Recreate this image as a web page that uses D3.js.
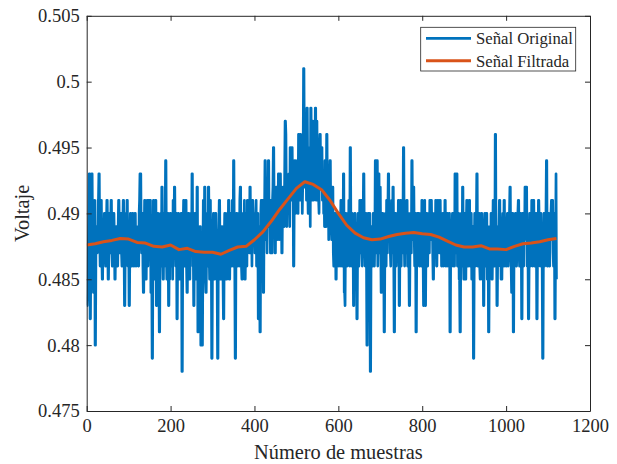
<!DOCTYPE html>
<html>
<head>
<meta charset="utf-8">
<script src="https://cdn.jsdelivr.net/npm/d3@7"></script>
<style>
  html, body { margin: 0; padding: 0; background: #fff; }
  svg { display: block; }
  text { font-family: "Liberation Serif", "Times New Roman", serif; fill: #262626; }
</style>
</head>
<body>
<svg id="chart" width="617" height="464"></svg>
<script>
// Raw ADC readings, one per sample (millivolts)
const originalMV = [
  483,483,484,486,488,490,493,493,482,482, 487,489,493,493,488,487,484,484,488,491, 480,480,487,489,489,487,488,491,491,493, 493,488,486,486,491,491,487,485,485,489,
  488,488,490,490,487,486,486,489,491,491, 488,485,485,488,490,490,487,489,491,491, 487,486,486,489,490,490,488,485,485,488, 489,489,487,486,486,489,491,491,488,487,
  488,490,490,487,486,486,489,491,491,488, 483,483,488,490,490,487,491,491,486,486, 489,483,483,488,490,490,487,486,486,490, 490,488,486,486,489,490,490,487,486,489,
  487,487,489,486,486,490,491,493,493,493, 488,487,490,490,486,484,484,488,491,491, 487,485,485,489,491,491,486,488,491,491, 487,491,491,484,484,486,479,479,488,491,
  491,487,485,485,491,491,483,483,488,490, 490,486,486,481,481,488,490,490,486,492, 492,487,485,485,490,488,486,489,494,494, 487,485,485,490,490,483,483,488,485,490,
  490,486,488,490,490,485,491,491,487,492, 492,488,486,486,490,482,482,488,490,490, 486,485,485,489,488,490,490,478,478,487, 489,491,491,486,486,490,491,491,486,484,
  484,488,490,490,486,485,485,489,490,490, 487,493,493,486,488,483,483,489,490,490, 486,485,485,492,492,481,481,489,487,486, 489,489,480,480,488,487,480,486,491,491,
  487,492,492,485,484,484,488,490,490,486, 492,492,487,485,491,491,486,488,479,479, 487,488,490,490,485,485,489,490,490,486, 487,485,479,479,488,489,491,491,486,485,
  485,488,489,489,486,485,482,482,488,490, 490,486,489,485,485,490,490,487,491,491, 485,485,488,490,490,486,487,491,491,486, 494,494,487,486,479,479,488,490,490,486,
  486,488,490,490,486,491,492,492,487,486, 485,485,489,490,490,487,491,485,485,488, 490,490,486,491,491,488,490,490,487,492, 492,487,490,490,486,491,491,488,490,488,
  489,487,490,490,491,486,489,490,490,482, 482,489,489,481,481,490,491,491,488,486, 491,484,484,490,490,494,494,488,491,491, 487,490,490,494,494,489,491,491,487,491,
  491,487,487,491,492,495,495,490,491,487, 487,491,492,492,488,491,489,493,493,488, 491,493,493,489,492,487,487,491,492,492, 489,489,493,497,497,496,491,489,492,492,
  490,492,493,493,489,495,495,491,494,495, 495,491,493,486,486,492,494,494,490,493, 493,491,494,494,490,496,496,491,494,496, 496,491,495,495,490,492,494,501,501,494,
  492,493,495,495,491,498,498,492,490,494, 494,491,495,489,498,498,493,491,497,497, 492,491,495,495,492,498,498,491,497,497, 491,494,494,491,490,495,496,496,492,494,
  495,495,491,493,493,490,492,489,494,494, 490,489,496,496,490,493,493,488,489,492, 494,494,489,491,488,490,492,492,487,486, 486,489,490,490,485,485,489,487,490,490,
  486,488,490,490,486,489,491,491,487,486, 490,486,493,493,484,484,483,488,490,487, 489,486,490,490,487,491,491,486,495,495, 488,486,490,490,487,489,483,483,488,490,
  490,486,489,489,482,482,488,490,490,486, 487,491,491,487,488,491,491,486,488,489, 493,493,487,489,486,490,490,487,480,480, 488,490,490,486,488,490,478,478,487,489,
  489,487,486,490,490,487,486,488,494,494, 487,490,494,494,486,489,493,493,487,492, 492,488,484,484,487,490,490,486,489,481, 481,488,490,490,486,491,491,487,490,493,
  493,488,490,490,487,486,489,491,491,487, 492,492,487,481,481,489,490,490,486,488, 490,490,487,491,491,483,483,489,491,491, 486,490,490,487,489,495,495,488,486,490,
  490,487,490,491,491,486,489,490,487,483, 483,488,490,490,487,494,494,488,490,492, 492,488,486,486,490,481,481,488,490,490, 487,490,490,486,486,489,490,490,486,491,
  491,488,487,483,483,490,491,483,483,488, 490,490,487,486,489,490,490,487,491,491, 488,491,491,488,490,487,485,485,489,490, 490,487,491,491,486,486,489,491,491,488,
  490,487,491,491,488,490,486,486,489,490, 490,486,488,487,491,491,486,486,489,490, 490,486,488,487,490,490,481,481,488,486, 486,489,490,490,486,488,490,486,493,493,
  487,489,493,493,486,488,490,490,485,485, 481,481,488,490,490,486,492,492,487,485, 485,488,490,490,485,489,491,491,487,486, 486,489,491,491,486,488,490,490,485,489,
  486,489,479,479,487,490,490,486,489,489, 493,493,486,486,489,490,490,486,485,486, 488,490,490,485,485,489,483,483,489,490, 490,486,488,490,490,485,488,489,481,481,
  487,489,489,486,490,490,485,485,488,491, 491,487,486,486,496,496,487,489,483,483, 487,486,489,489,491,491,486,489,485,485, 485,489,490,490,486,491,491,486,489,487,
  487,486,489,490,490,486,488,489,490,492, 492,487,486,484,484,490,490,481,481,488, 486,489,490,490,486,486,489,490,490,491, 491,487,486,486,490,490,489,482,482,490,
  490,486,486,490,488,492,492,489,492,492, 486,489,488,482,482,487,490,490,486,489, 487,491,491,486,489,491,491,487,486,486, 489,490,490,482,482,488,486,491,491,489,
  488,486,490,490,487,489,486,479,479,488, 490,490,486,488,487,490,494,494,486,486, 489,490,490,486,486,490,488,490,491,488, 491,491,487,486,490,490,482,482,488,493,
  485
];

// Filtered signal, sampled at these sample numbers (millivolts)
const filteredSamples = [
  0, 20, 40, 60, 80, 100, 120, 140, 160, 180, 200, 220, 240, 260, 280, 300, 320, 340, 360, 380,
  400, 420, 440, 460, 480, 500, 520, 540, 560, 580, 600, 620, 640, 660, 680, 700, 720, 740, 760, 780,
  800, 820, 840, 860, 880, 900, 920, 940, 960, 980, 1000, 1020, 1040, 1060, 1080, 1100, 1120
];
const filteredMV = [
  487.6, 487.7, 487.85, 487.95, 488.1, 488.05, 487.8, 487.75, 487.5, 487.45, 487.6, 487.25, 487.35, 487.1, 487.05, 487.05, 486.9, 487.2, 487.45, 487.5,
  488.0, 488.6, 489.4, 490.3, 491.1, 491.9, 492.4, 492.2, 491.8, 491.0, 490.0, 489.1, 488.5, 488.15, 488.0, 488.05, 488.25, 488.4, 488.5, 488.55,
  488.45, 488.4, 488.2, 487.9, 487.6, 487.45, 487.45, 487.55, 487.3, 487.3, 487.25, 487.5, 487.7, 487.75, 487.85, 488.0, 488.1
];

const xTicks = [0, 200, 400, 600, 800, 1000, 1200];
const yTicks = [0.475, 0.48, 0.485, 0.49, 0.495, 0.5, 0.505];
const yTickLabels = ["0.475", "0.48", "0.485", "0.49", "0.495", "0.5", "0.505"];
const seriesNames = ["Señal Original", "Señal Filtrada"];
const seriesColors = ["#0072BD", "#D95319"];
const seriesWidths = [2.7, 3];

const svg = d3.select("#chart");
const plot = { left: 86.7, top: 15.8, width: 503.3, height: 395.2 };
const axisColor = "#262626";
const tickLen = 5;

const x = d3.scaleLinear().domain([0, 1200]).range([plot.left, plot.left + plot.width]);
const y = d3.scaleLinear().domain([0.475, 0.505]).range([plot.top + plot.height, plot.top]);

svg.append("defs").append("clipPath").attr("id", "plotClip")
  .append("rect")
  .attr("x", plot.left).attr("y", plot.top)
  .attr("width", plot.width).attr("height", plot.height);

// Series
const lines = svg.append("g").attr("clip-path", "url(#plotClip)");
const rawLine = d3.line().x((d, i) => x(i)).y(d => y(d / 1000));
lines.append("path")
  .datum(originalMV)
  .attr("d", rawLine)
  .attr("fill", "none")
  .attr("stroke", seriesColors[0])
  .attr("stroke-width", seriesWidths[0])
  .attr("stroke-linejoin", "round");

const filtLine = d3.line().x((d, i) => x(filteredSamples[i])).y(d => y(d / 1000));
lines.append("path")
  .datum(filteredMV)
  .attr("d", filtLine)
  .attr("fill", "none")
  .attr("stroke", seriesColors[1])
  .attr("stroke-width", seriesWidths[1])
  .attr("stroke-linejoin", "round");

// Axes (box with inward ticks on all four sides)
const fmtY = d => yTickLabels[yTicks.indexOf(d)];
function styleAxis(g) {
  g.selectAll("path.domain").attr("stroke", axisColor).attr("stroke-width", 1);
  g.selectAll(".tick line").attr("stroke", axisColor).attr("stroke-width", 1);
  g.selectAll(".tick text")
    .attr("fill", axisColor)
    .style("font-family", "'Liberation Serif', 'Times New Roman', serif")
    .style("font-size", "18.5px");
}

svg.append("g")
  .attr("transform", `translate(0,${plot.top + plot.height})`)
  .call(d3.axisBottom(x).tickValues(xTicks).tickSizeInner(-tickLen).tickSizeOuter(0).tickPadding(8).tickFormat(d3.format("d")))
  .call(styleAxis);

svg.append("g")
  .attr("transform", `translate(${plot.left},0)`)
  .call(d3.axisLeft(y).tickValues(yTicks).tickSizeInner(-tickLen).tickSizeOuter(0).tickPadding(7).tickFormat(fmtY))
  .call(styleAxis);

svg.append("g")
  .attr("transform", `translate(0,${plot.top})`)
  .call(d3.axisTop(x).tickValues(xTicks).tickSizeInner(-tickLen).tickSizeOuter(0).tickFormat(""))
  .call(styleAxis);

svg.append("g")
  .attr("transform", `translate(${plot.left + plot.width},0)`)
  .call(d3.axisRight(y).tickValues(yTicks).tickSizeInner(-tickLen).tickSizeOuter(0).tickFormat(""))
  .call(styleAxis);

// Axis titles
svg.append("text")
  .attr("x", plot.left + plot.width / 2)
  .attr("y", 459)
  .attr("text-anchor", "middle")
  .style("font-size", "20.4px")
  .text("Número de muestras");

svg.append("text")
  .attr("transform", `translate(29,${plot.top + plot.height / 2}) rotate(-90)`)
  .attr("text-anchor", "middle")
  .style("font-size", "20.4px")
  .text("Voltaje");

// Legend
const legend = svg.append("g");
legend.append("rect")
  .attr("x", 420.7).attr("y", 27.3)
  .attr("width", 155).attr("height", 43.7)
  .attr("fill", "#fff")
  .attr("stroke", axisColor)
  .attr("stroke-width", 0.8);
seriesNames.forEach((name, i) => {
  const cy = 38.3 + i * 22.4;
  legend.append("line")
    .attr("x1", 426).attr("x2", 471)
    .attr("y1", cy).attr("y2", cy)
    .attr("stroke", seriesColors[i])
    .attr("stroke-width", seriesWidths[i]);
  legend.append("text")
    .attr("x", 476).attr("y", cy)
    .attr("dy", "0.35em")
    .style("font-size", "16.7px")
    .text(name);
});
</script>
</body>
</html>
